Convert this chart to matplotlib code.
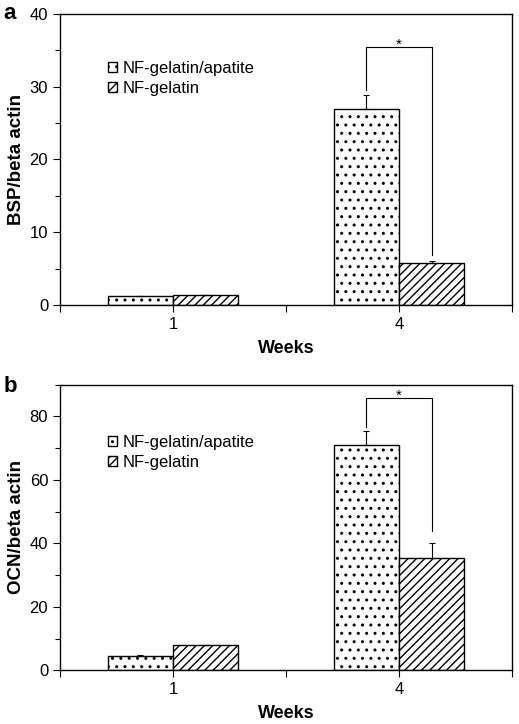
import matplotlib
matplotlib.use("Agg")
import matplotlib.pyplot as plt
import numpy as np
from matplotlib.ticker import MultipleLocator

plt.rcParams["font.family"] = ["Liberation Sans", "DejaVu Sans"]
plt.rcParams["hatch.linewidth"] = 1.0

# Data
weeks = ["1", "4"]
series_names = ["NF-gelatin/apatite", "NF-gelatin"]

bsp_apatite = [1.2, 26.9]
bsp_apatite_err = [0.0, 1.9]
bsp_gelatin = [1.35, 5.75]
bsp_gelatin_err = [0.0, 0.3]

ocn_apatite = [4.4, 70.9]
ocn_apatite_err = [0.3, 4.6]
ocn_gelatin = [8.0, 35.5]
ocn_gelatin_err = [0.0, 4.5]

# significance bracket at week 4: (top, left leg end, right leg end)
bsp_bracket = [35.5, 29.5, 6.9]
ocn_bracket = [85.8, 76.8, 43.8]

fig = plt.figure(figsize=(5.19, 7.24), dpi=100)
ax_a = fig.add_axes([0.1156, 0.5787, 0.871, 0.402])
ax_b = fig.add_axes([0.1156, 0.0742, 0.871, 0.3945])

x = np.arange(1, len(weeks) + 1)
w = 0.288


def panel(ax, apatite, apatite_err, gelatin, gelatin_err, bracket, ylab, ymax, major, minor, leg_y):
    ax.bar(x - w / 2, apatite, w, color="white", edgecolor="black",
           hatch="..", linewidth=1.0, label=series_names[0], zorder=2)
    ax.bar(x + w / 2, gelatin, w, color="white", edgecolor="black",
           hatch="////", linewidth=1.0, label=series_names[1], zorder=2)
    ax.errorbar(x - w / 2, apatite, yerr=[np.zeros(len(x)), apatite_err], fmt="none",
                ecolor="black", elinewidth=0.8, capsize=2.5, capthick=0.8, zorder=3)
    ax.errorbar(x + w / 2, gelatin, yerr=[np.zeros(len(x)), gelatin_err], fmt="none",
                ecolor="black", elinewidth=0.8, capsize=2.5, capthick=0.8, zorder=3)

    # significance bracket for week 4
    xl, xr = x[1] - w / 2, x[1] + w / 2
    ax.plot([xl, xl, xr, xr], [bracket[1], bracket[0], bracket[0], bracket[2]],
            color="black", linewidth=0.8)
    ax.annotate("*", xy=((xl + xr) / 2, bracket[0]), xytext=(0, -1.5),
                textcoords="offset points", ha="center", va="baseline", fontsize=11)

    ax.set_xlim(0.5, 2.5)
    ax.set_ylim(0, ymax)
    ax.set_xticks(x)
    ax.set_xticklabels(weeks)
    ax.xaxis.set_minor_locator(MultipleLocator(0.5))
    ax.yaxis.set_major_locator(MultipleLocator(major))
    ax.yaxis.set_minor_locator(MultipleLocator(minor))
    ax.tick_params(which="both", direction="out", labelsize=12, width=0.8)
    ax.tick_params(which="major", length=5)
    ax.tick_params(which="minor", length=3.5)
    ax.tick_params(axis="x", which="minor", length=5)
    for s in ax.spines.values():
        s.set_linewidth(1.0)
    ax.set_xlabel("Weeks", fontsize=13, fontweight="bold", labelpad=6)
    ax.set_ylabel(ylab, fontsize=13.5, fontweight="bold", labelpad=3)

    ax.legend(loc="center left", bbox_to_anchor=(0.106, leg_y), frameon=False,
              fontsize=12, handlelength=0.55, handleheight=0.55, handletextpad=0.35,
              labelspacing=0.3, borderpad=0, borderaxespad=0)


panel(ax_a, bsp_apatite, bsp_apatite_err, bsp_gelatin, bsp_gelatin_err, bsp_bracket,
      "BSP/beta actin", 40, 10, 5, 0.778)
panel(ax_b, ocn_apatite, ocn_apatite_err, ocn_gelatin, ocn_gelatin_err, ocn_bracket,
      "OCN/beta actin", 90, 20, 10, 0.764)

fig.text(0.006, 0.974, "a", fontsize=16, fontweight="bold", va="baseline", ha="left")
fig.text(0.006, 0.4586, "b", fontsize=16, fontweight="bold", va="baseline", ha="left")

fig.savefig("out.png", dpi=100)
